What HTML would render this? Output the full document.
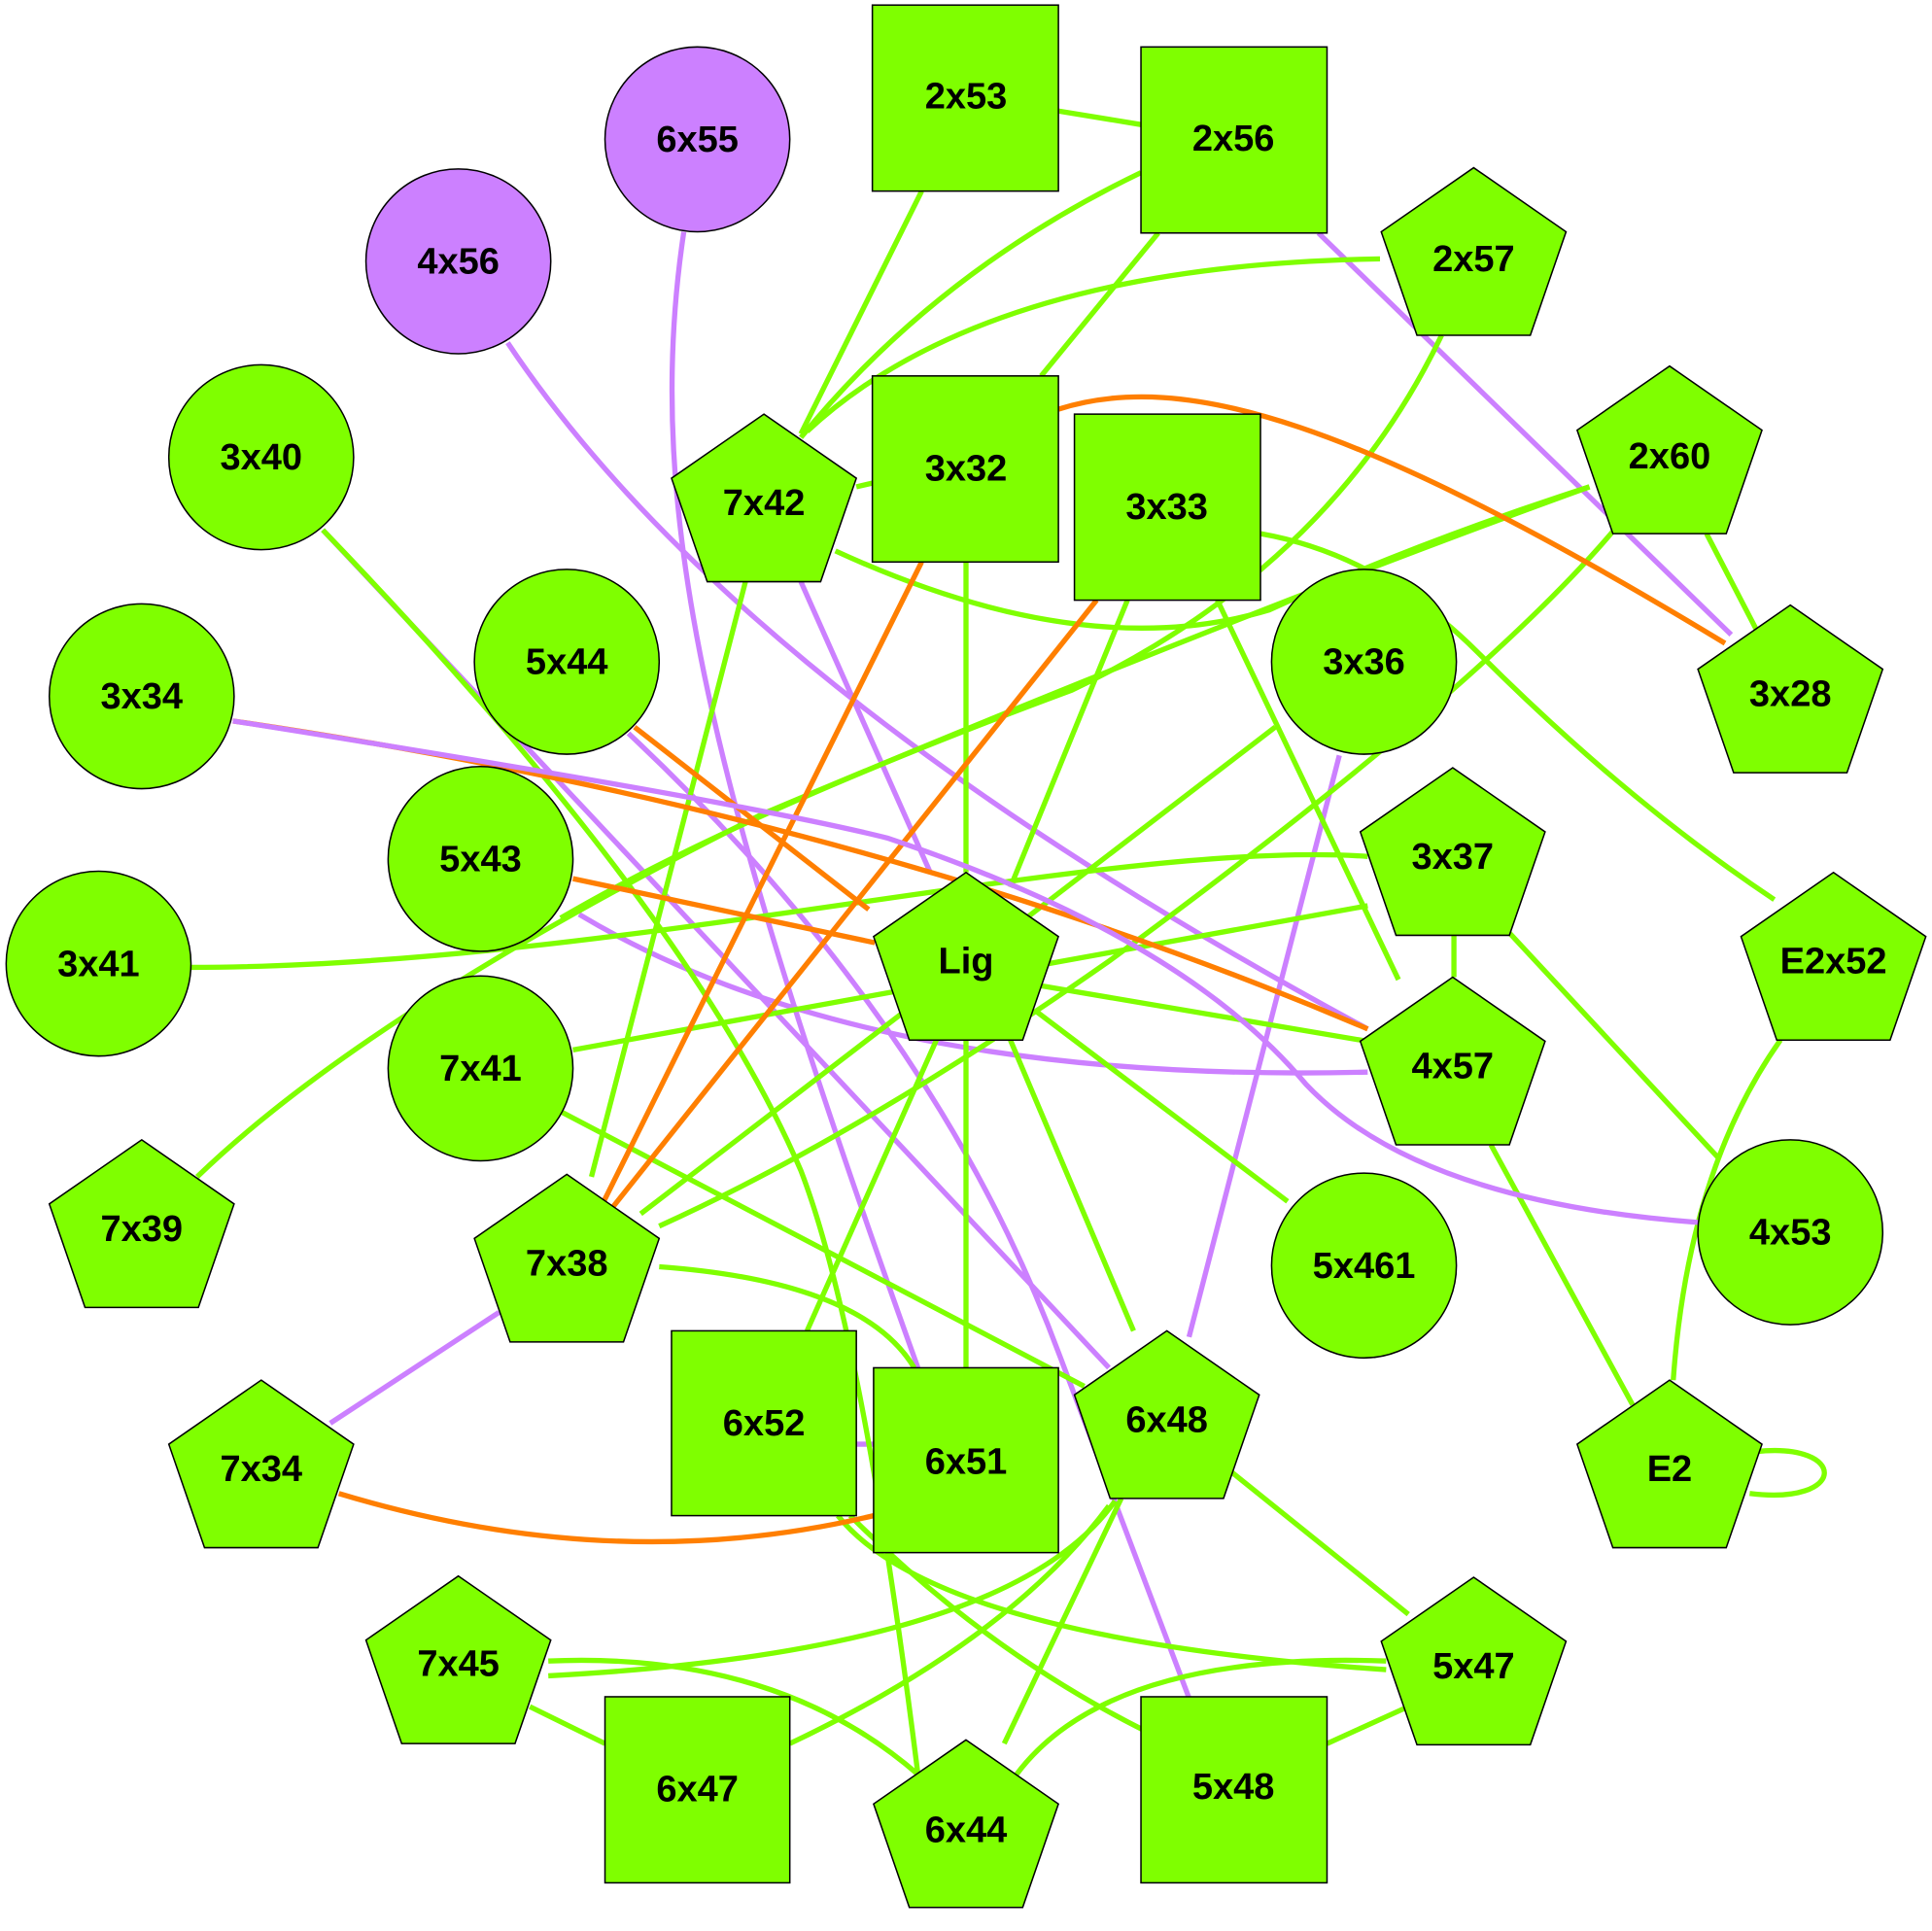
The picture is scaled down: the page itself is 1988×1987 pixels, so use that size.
<!DOCTYPE html>
<html><head><meta charset="utf-8"><style>html,body{margin:0;padding:0;background:#fff}svg{display:block}</style></head>
<body>
<svg width="1988" height="1987" viewBox="0 0 1568 1567" xmlns="http://www.w3.org/2000/svg">
<defs>
<g id="pent"><polygon points="0,0 75,52 46,136 -46,136 -75,52" stroke="#000" stroke-width="1.2" fill="#7fff00"/></g>
</defs>
<g fill="none" stroke-width="4.2">
<g stroke="#cc80ff">
<path d="M555,188 C520,420 580,650 745,1110"/>
<path d="M412,278 Q600,560 1110,835"/>
<path d="M1070,189 L1405,515"/>
<path d="M262,430 L900,1110"/>
<path d="M510,595 Q760,830 860,1100 Q920,1260 965,1378"/>
<path d="M1087,613 L965,1085"/>
<path d="M470,742 Q700,880 1110,870"/>
<path d="M268,1155 L405,1065"/>
<path d="M650,472 L755,708"/>
<path d="M695,1172 L709,1172"/>
</g>
<g stroke="#7fff00">
<path d="M859,90 L926,101"/>
<path d="M748,155 L650,352"/>
<path d="M926,140 Q760,220 650,355"/>
<path d="M940,189 L845,305"/>
<path d="M1120,210 Q800,215 655,350"/>
<path d="M1170,272 Q1080,460 870,560 Q600,660 455,745"/>
<path d="M1290,395 Q1000,500 620,660 Q300,820 160,955"/>
<path d="M1385,433 L1425,510"/>
<path d="M1310,430 Q1200,560 900,780 Q700,920 535,995"/>
<path d="M1035,590 L520,985"/>
<path d="M1180,759 L1180,793"/>
<path d="M155,785 C500,785 900,680 1110,695"/>
<path d="M465,852 L1110,735"/>
<path d="M1225,757 L1395,940"/>
<path d="M845,800 L1110,845"/>
<path d="M840,820 L1045,975"/>
<path d="M820,844 L920,1080"/>
<path d="M784,844 L784,1110"/>
<path d="M784,456 L784,708"/>
<path d="M915,487 L820,720"/>
<path d="M760,844 L655,1080"/>
<path d="M988,487 L1135,795"/>
<path d="M1023,433 Q1120,450 1200,530 Q1320,650 1440,730"/>
<path d="M695,395 L708,392"/>
<path d="M678,447 Q880,540 1030,495 Q1150,440 1290,395"/>
<path d="M605,472 L480,955"/>
<path d="M262,430 Q560,740 650,950 Q700,1080 745,1440"/>
<path d="M455,902 L880,1125"/>
<path d="M535,1028 Q700,1040 742,1110"/>
<path d="M680,1230 Q760,1330 1125,1355"/>
<path d="M690,1230 Q800,1340 930,1405"/>
<path d="M1000,1195 L1143,1310"/>
<path d="M910,1216 L815,1415"/>
<path d="M905,1218 Q820,1340 445,1360"/>
<path d="M900,1222 Q820,1330 641,1415"/>
<path d="M430,1385 L491,1415"/>
<path d="M445,1348 Q630,1340 745,1440"/>
<path d="M1125,1348 Q900,1340 825,1440"/>
<path d="M1143,1385 L1077,1415"/>
<path d="M1445,844 Q1370,950 1358,1120"/>
<path d="M1210,929 L1325,1140"/>
<path d="M1425,1178 C1500,1170 1500,1222 1420,1212"/>
</g>
<g stroke="#ff7f00">
<path d="M859,332 C960,300 1100,340 1400,522"/>
<path d="M748,456 L490,975"/>
<path d="M890,487 L497,980"/>
<path d="M515,590 L705,738"/>
<path d="M465,713 L710,765"/>
<path d="M189,585 Q700,660 1110,835"/>
<path d="M275,1212 Q500,1280 709,1230"/>
</g>
<path stroke="#cc80ff" d="M189,585 Q600,650 720,680 Q960,760 1060,880 Q1150,975 1378,992"/>
</g>
<g stroke="#000" stroke-width="1.2">
<circle cx="566" cy="113" r="75" fill="#cc80ff"/>
<circle cx="372" cy="212" r="75" fill="#cc80ff"/>
<g fill="#7fff00">
<rect x="708" y="4" width="151" height="151"/>
<rect x="926" y="38" width="151" height="151"/>
<rect x="708" y="305" width="151" height="151"/>
<rect x="872" y="336" width="151" height="151"/>
<rect x="545" y="1080" width="150" height="150"/>
<rect x="709" y="1110" width="150" height="150"/>
<rect x="491" y="1377" width="150" height="151"/>
<rect x="926" y="1377" width="151" height="151"/>
<circle cx="212" cy="371" r="75"/>
<circle cx="115" cy="565" r="75"/>
<circle cx="460" cy="537" r="75"/>
<circle cx="1107" cy="537" r="75"/>
<circle cx="390" cy="697" r="75"/>
<circle cx="80" cy="782" r="75"/>
<circle cx="390" cy="867" r="75"/>
<circle cx="1453" cy="1000" r="75"/>
<circle cx="1107" cy="1027" r="75"/>
</g>
</g>
<use href="#pent" x="1196" y="136"/>
<use href="#pent" x="620" y="336"/>
<use href="#pent" x="1355" y="297"/>
<use href="#pent" x="1453" y="491"/>
<use href="#pent" x="1179" y="623"/>
<use href="#pent" x="784" y="708"/>
<use href="#pent" x="1488" y="708"/>
<use href="#pent" x="1179" y="793"/>
<use href="#pent" x="115" y="925"/>
<use href="#pent" x="460" y="953"/>
<use href="#pent" x="947" y="1080"/>
<use href="#pent" x="212" y="1120"/>
<use href="#pent" x="1355" y="1120"/>
<use href="#pent" x="372" y="1279"/>
<use href="#pent" x="1196" y="1280"/>
<use href="#pent" x="784" y="1412"/>
<g font-family="Liberation Sans, sans-serif" font-weight="bold" font-size="30" text-anchor="middle" fill="#000">
<text x="784" y="88">2x53</text>
<text x="1001" y="122">2x56</text>
<text x="566" y="123">6x55</text>
<text x="372" y="222">4x56</text>
<text x="1196" y="220">2x57</text>
<text x="212" y="381">3x40</text>
<text x="620" y="418">7x42</text>
<text x="784" y="390">3x32</text>
<text x="947" y="421">3x33</text>
<text x="1355" y="380">2x60</text>
<text x="115" y="575">3x34</text>
<text x="460" y="547">5x44</text>
<text x="1107" y="547">3x36</text>
<text x="1453" y="573">3x28</text>
<text x="390" y="707">5x43</text>
<text x="1179" y="705">3x37</text>
<text x="80" y="792">3x41</text>
<text x="784" y="790">Lig</text>
<text x="1488" y="790">E2x52</text>
<text x="390" y="877">7x41</text>
<text x="1179" y="875">4x57</text>
<text x="115" y="1007">7x39</text>
<text x="1453" y="1010">4x53</text>
<text x="1107" y="1037">5x461</text>
<text x="460" y="1035">7x38</text>
<text x="620" y="1165">6x52</text>
<text x="784" y="1196">6x51</text>
<text x="947" y="1162">6x48</text>
<text x="212" y="1202">7x34</text>
<text x="1355" y="1202">E2</text>
<text x="372" y="1360">7x45</text>
<text x="1196" y="1362">5x47</text>
<text x="566" y="1462">6x47</text>
<text x="1001" y="1460">5x48</text>
<text x="784" y="1495">6x44</text>
</g>
</svg>
</body></html>
